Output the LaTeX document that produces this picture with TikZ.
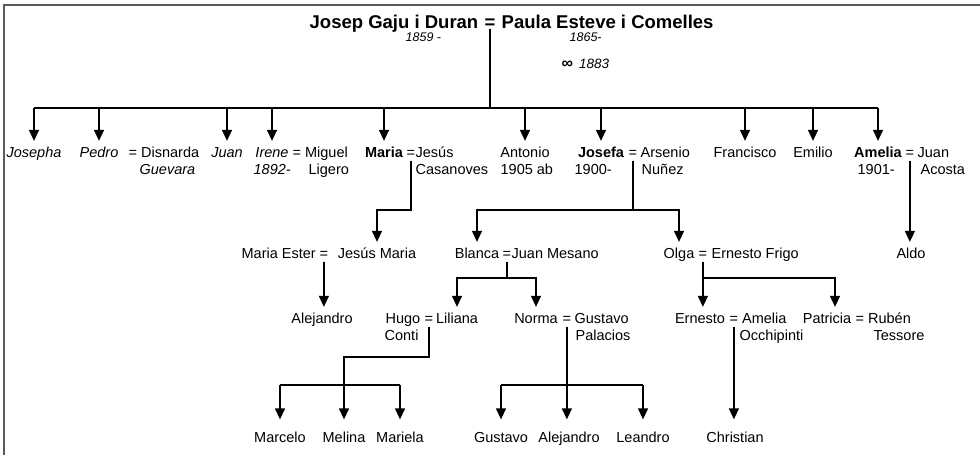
\documentclass[tikz,border=0pt]{standalone}
\usepackage{fontspec}
\setmainfont{Liberation Sans}
\usetikzlibrary{arrows.meta}

\begin{document}
\begin{tikzpicture}[x=1pt,y=-1pt,line width=1.3pt,
        pers/.style={font=\fontsize{14.5}{17}\selectfont,inner sep=0pt,text height=11pt,text depth=3pt,anchor=base},
        side/.style={pers,anchor=base west},
        title/.style={font=\fontsize{18.5}{22}\selectfont\bfseries,inner sep=0pt},
        yr/.style={font=\fontsize{12.5}{15}\selectfont\itshape,inner sep=0pt,anchor=base west},
        arr/.style={-{Triangle[width=10pt,length=11pt]},shorten >=4.5pt}]
                \useasboundingbox (0,0) rectangle (980,455);
                \draw[black!65,line width=1.5pt] (4,455) -- (4,5) -- (980,5);
                % parents
                \node[title,anchor=base] (rooteq) at (490,28) {=};
                \node[title,anchor=base east] (josep) at ([xshift=-5pt]rooteq.base west) {Josep Gaju i Duran};
                \node[title,anchor=base west] (paula) at ([xshift=5pt]rooteq.base east) {Paula Esteve i Comelles};
                \node[yr] (josepyr) at (405,41) {1859 -};
                \node[yr] (paulayr) at (569,41) {1865-};
                \node[yr] (wed) at (561,68) {{\upshape\fontsize{16}{16}\selectfont\bfseries ∞}\hspace{6pt}{\fontsize{13.5}{15}\selectfont 1883}};
                % children
                \node[pers] (josepha) at (34,157) {\itshape Josepha};
                \node[pers] (pedro) at (99,157) {\itshape Pedro};
                \node[side] (pedrosp) at (128,157) {= Disnarda};
                \node[side] (pedrosp2) at (139,174) {\itshape Guevara};
                \node[pers] (juan) at (227,157) {\itshape Juan};
                \node[pers] (irene) at (272,157) {\itshape Irene};
                \node[side] (irenesp) at (292,157) {= Miguel};
                \node[side] (irenesp2) at (308,174) {Ligero};
                \node[side] (ireneyr) at (253,174) {\itshape 1892-};
                \node[pers] (maria) at (384,157) {\bfseries Maria};
                \node[side] (mariaeq) at (406,157) {=};
                \node[side] (mariasp) at (415,157) {Jesús};
                \node[side] (mariasp2) at (415,174) {Casanoves};
                \node[pers] (antonio) at (525,157) {Antonio};
                \node[side] (antonioyr) at (500,174) {1905 ab};
                \node[pers] (josefa) at (601,157) {\bfseries Josefa};
                \node[side] (josefaeq) at (628,157) {=};
                \node[side] (josefasp) at (640,157) {Arsenio};
                \node[side] (josefasp2) at (641,174) {Nuñez};
                \node[side] (josefayr) at (574,174) {1900-};
                \node[pers] (francisco) at (745,157) {Francisco};
                \node[pers] (emilio) at (813,157) {Emilio};
                \node[pers] (amelia) at (878,157) {\bfseries Amelia};
                \node[side] (ameliaeq) at (905,157) {=};
                \node[side] (ameliasp) at (917,157) {Juan};
                \node[side] (ameliasp2) at (920,174) {Acosta};
                \node[side] (ameliayr) at (857,174) {1901-};
                % grandchildren
                \node[side] (mariaester) at (241,258) {Maria Ester};
                \node[side] (mariaestereq) at (319,258) {=};
                \node[pers] (jesusmaria) at (377,258) {Jesús Maria};
                \node[pers] (blanca) at (477,258) {Blanca};
                \node[side] (blancaeq) at (502,258) {=};
                \node[side] (blancasp) at (511,258) {Juan Mesano};
                \node[pers] (olga) at (679,258) {Olga};
                \node[side] (olgaeq) at (698,258) {=};
                \node[side] (olgasp) at (711,258) {Ernesto Frigo};
                \node[pers] (aldo) at (911,258) {Aldo};
                % third row
                \node[pers] (alejandro) at (322,323) {Alejandro};
                \node[side] (hugo) at (385,323) {Hugo};
                \node[side] (hugoeq) at (424,323) {=};
                \node[pers] (liliana) at (457,323) {Liliana};
                \node[side] (hugo2) at (384,340) {Conti};
                \node[pers] (norma) at (536,323) {Norma};
                \node[side] (normaeq) at (562,323) {=};
                \node[side] (normasp) at (574,323) {Gustavo};
                \node[side] (normasp2) at (575,340) {Palacios};
                \node[pers] (ernesto) at (700,323) {Ernesto};
                \node[side] (ernestoeq) at (729,323) {=};
                \node[side] (ernestosp) at (741.5,323) {Amelia};
                \node[side] (ernestosp2) at (739,340) {Occhipinti};
                \node[pers] (patricia) at (827,323) {Patricia};
                \node[side] (patriciasp) at (855,323) {= Rubén};
                \node[side] (patriciasp2) at (873,340) {Tessore};
                % last row
                \node[pers] (marcelo) at (280,442) {Marcelo};
                \node[pers] (melina) at (344,442) {Melina};
                \node[pers] (mariela) at (400,442) {Mariela};
                \node[pers] (gustavo) at (501,442) {Gustavo};
                \node[pers] (alejandro2) at (569,442) {Alejandro};
                \node[pers] (leandro) at (643,442) {Leandro};
                \node[pers] (christian) at (735,442) {Christian};
                % lines to the children
                \coordinate (kids0) at (490,108);
                \draw (rooteq.south) -- (kids0);
                \draw (josepha.north |- kids0) -- (amelia.north |- kids0);
                \draw[arr] (josepha.north |- kids0) -- (josepha.north);
                \draw[arr] (pedro.north |- kids0) -- (pedro.north);
                \draw[arr] (juan.north |- kids0) -- (juan.north);
                \draw[arr] (irene.north |- kids0) -- (irene.north);
                \draw[arr] (maria.north |- kids0) -- (maria.north);
                \draw[arr] (antonio.north |- kids0) -- (antonio.north);
                \draw[arr] (josefa.north |- kids0) -- (josefa.north);
                \draw[arr] (francisco.north |- kids0) -- (francisco.north);
                \draw[arr] (emilio.north |- kids0) -- (emilio.north);
                \draw[arr] (amelia.north |- kids0) -- (amelia.north);
                % second row
                \coordinate (mariakids) at (0,210);
                \draw[arr] (mariaeq.south) -- (mariaeq.south |- mariakids) -| (jesusmaria.north);
                \coordinate (josefakids) at (0,210);
                \draw (josefaeq.south) -- (josefaeq.south |- josefakids);
                \draw[arr] (josefaeq.south |- josefakids) -| (blanca.north);
                \draw[arr] (josefaeq.south |- josefakids) -| (olga.north);
                \draw[arr] (ameliaeq.south) -- (ameliaeq.south |- aldo.north);
                % third row
                \draw[arr] (mariaestereq.south) -- (mariaestereq.south |- alejandro.north);
                \coordinate (blancakids) at (0,278);
                \draw (blancaeq.south) -- (blancaeq.south |- blancakids);
                \draw[arr] (blancaeq.south |- blancakids) -| (liliana.north);
                \draw[arr] (blancaeq.south |- blancakids) -| (norma.north);
                \coordinate (olgakids) at (0,278);
                \draw[arr] (olgaeq.south) -- (olgaeq.south |- ernesto.north);
                \draw[arr] (olgaeq.south |- olgakids) -| ([xshift=8pt]patricia.north);
                % last row
                \coordinate (hugobar) at (0,357);
                \coordinate (hugokids) at (0,385);
                \draw[arr,shorten >=11pt] (hugoeq.south) -- (hugoeq.south |- hugobar) -| (melina.north);
                \draw (marcelo.north |- hugokids) -- (mariela.north |- hugokids);
                \draw[arr,shorten >=11pt] (marcelo.north |- hugokids) -- (marcelo.north);
                \draw[arr,shorten >=11pt] (mariela.north |- hugokids) -- (mariela.north);
                \coordinate (normakids) at (0,385);
                \draw[arr,shorten >=11pt] (normaeq.south) -- (normaeq.south |- alejandro2.north);
                \draw (gustavo.north |- normakids) -- (leandro.north |- normakids);
                \draw[arr,shorten >=11pt] (gustavo.north |- normakids) -- (gustavo.north);
                \draw[arr,shorten >=11pt] (leandro.north |- normakids) -- (leandro.north);
                \draw[arr,shorten >=11pt] (ernestoeq.south) -- (ernestoeq.south |- christian.north);
            \end{tikzpicture}
\end{document}
